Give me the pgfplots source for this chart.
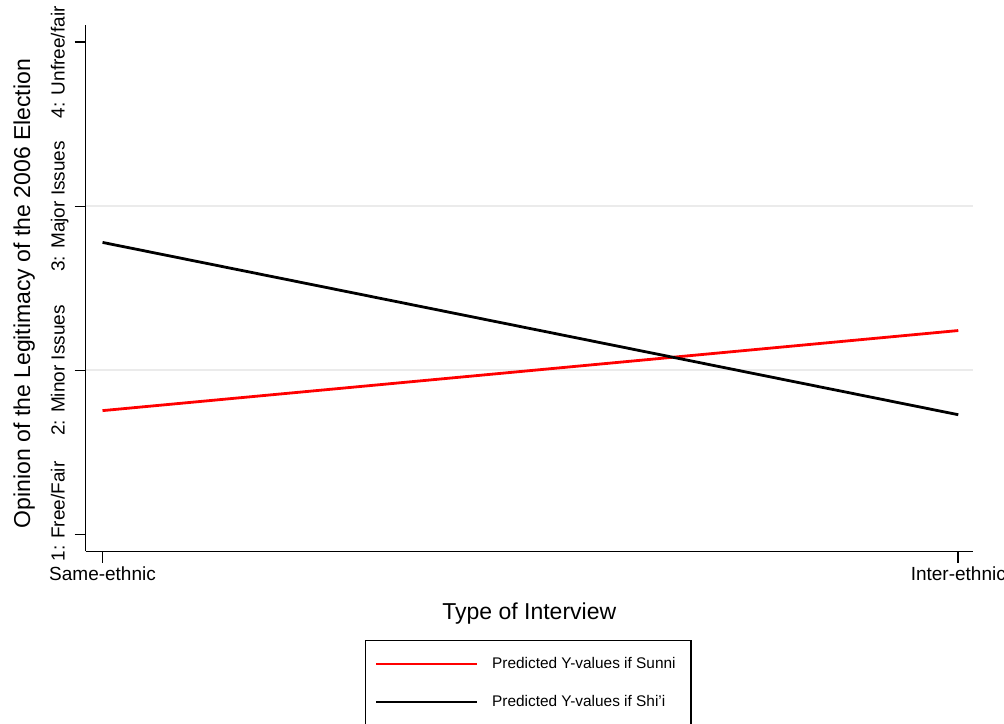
\documentclass[border=0pt]{standalone}
\usepackage{fontspec}
\setmainfont{Liberation Sans}
\usepackage{pgfplots}
\pgfplotsset{compat=1.18}
\begin{document}
\begin{tikzpicture}[x=1pt,y=1pt]
\begin{axis}[
  at={(85.5pt,171.5pt)}, anchor=south west,
  scale only axis, width=887.5pt, height=526.5pt,
  xmin=-0.0199, xmax=1.0172, ymin=0.8965, ymax=4.105,
  axis x line=bottom, axis y line=left,
  axis line style={-, line width=1.6pt, black},
  xtick={0,1}, xticklabels={Same-ethnic, Inter-ethnic},
  ytick={1,2,3,4},
  yticklabels={{\hspace*{46pt}1: Free/Fair}, {2: Minor Issues}, {3: Major Issues}, {4: Unfree/fair\hspace*{40pt}}},
  tick align=outside, major tick length=11pt,
  tick style={line width=1.6pt, black},
  xticklabel style={font=\fontsize{19}{22}\selectfont, inner sep=0pt, yshift=-4pt},
  yticklabel style={xshift=-10pt, font=\fontsize{19}{22}\selectfont, rotate=90, anchor=base, inner sep=0pt},
  extra y ticks={2,3}, extra y tick labels={},
  extra y tick style={grid=major, major tick length=0pt},
  major grid style={line width=2pt, color=black!8},
  xlabel={Type of Interview},
  xlabel style={font=\fontsize{23}{26}\selectfont, at={(axis description cs:0.5,-0.13)}, anchor=base},
  ylabel={Opinion of the Legitimacy of the 2006 Election},
  ylabel style={font=\fontsize{23}{26}\selectfont, at={(axis description cs:-0.0625,0.49)}, anchor=base, rotate=0},
  legend style={at={(axis description cs:0.3148,-0.1672)}, anchor=north west,
    draw=black, line width=1.5pt, font=\fontsize{15.4}{18}\selectfont,
    inner xsep=9.5pt, inner ysep=17.4pt, row sep=25pt, column sep=14pt,
    nodes={inner sep=0pt}},
  legend cell align=left,
  legend image code/.code={\draw[#1, line width=2pt] (0pt,0pt) -- (101pt,0pt);},
]
\addplot[red, line width=2.8pt] coordinates {(0,1.755) (1,2.243)};
\addlegendentry{Predicted Y-values if Sunni\hspace*{6pt}}
\addplot[black, line width=2.8pt] coordinates {(0,2.78) (1,1.73)};
\addlegendentry{Predicted Y-values if Shi'i}
\end{axis}
\pgfresetboundingbox
\useasboundingbox (0,0) rectangle (1004,723);
\end{tikzpicture}
\end{document}
